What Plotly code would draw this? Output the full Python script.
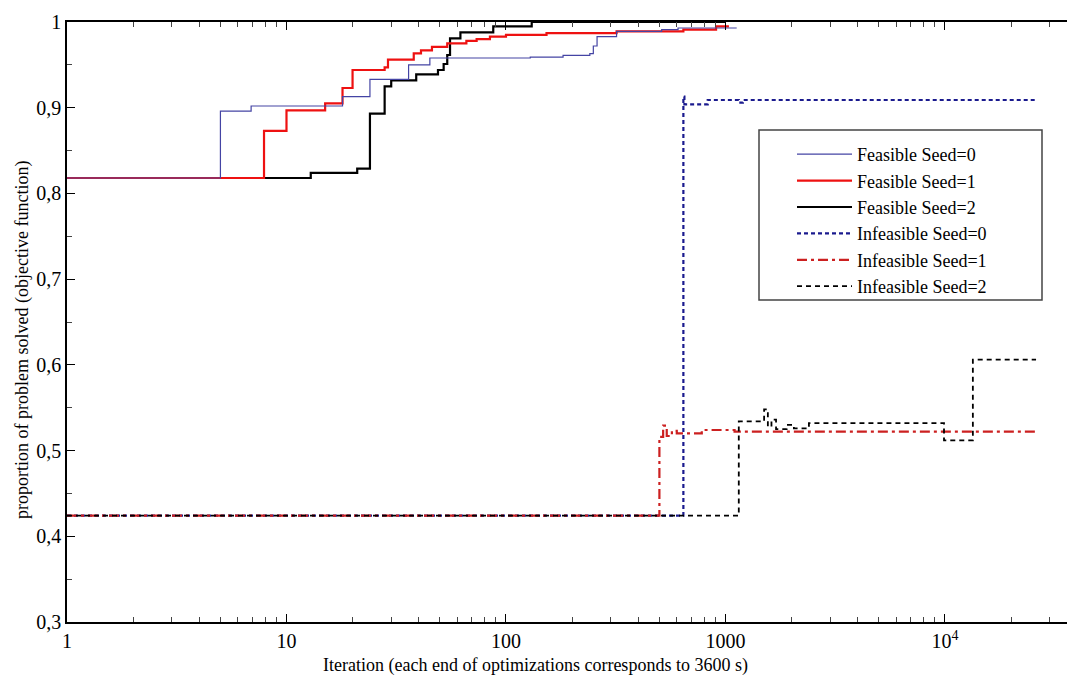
import plotly.graph_objects as go

# ---- data ----
feas0_x = [1, 5.0, 6.9, 18, 24, 36, 45, 129, 182, 241, 250, 260, 319, 512, 608, 1125]
feas0_y = [0.818, 0.896, 0.902, 0.913, 0.933, 0.950, 0.958, 0.959, 0.961, 0.963, 0.972, 0.983, 0.989, 0.991, 0.993, 0.993]

feas1_x = [1, 7.9, 10, 15, 18, 20, 28, 29, 38, 41, 46, 54, 66, 73.5, 84.5, 100, 153, 319, 643, 906, 1037]
feas1_y = [0.818, 0.873, 0.897, 0.905, 0.923, 0.944, 0.947, 0.956, 0.9635, 0.967, 0.971, 0.975, 0.978, 0.980, 0.983, 0.985, 0.987, 0.989, 0.991, 0.995, 0.995]

feas2_x = [1, 12.9, 21, 24, 28, 30, 39, 49, 52, 54, 55.6, 62, 87.5, 131, 1000]
feas2_y = [0.818, 0.824, 0.829, 0.893, 0.925, 0.932, 0.939, 0.944, 0.951, 0.9615, 0.981, 0.988, 0.995, 1.0, 1.0]

infeas0_x = [1, 643, 650, 830, 1150, 1200, 26000]
infeas0_y = [0.424, 0.913, 0.904, 0.909, 0.906, 0.909, 0.909]

infeas1_x = [1, 500, 520, 540, 570, 600, 780, 1100, 26000]
infeas1_y = [0.424, 0.516, 0.529, 0.517, 0.523, 0.520, 0.524, 0.522, 0.522]

infeas2_x = [1, 1150, 1500, 1560, 1620, 1700, 1900, 2050, 2400, 9900, 13400, 26000]
infeas2_y = [0.424, 0.534, 0.548, 0.528, 0.536, 0.525, 0.530, 0.526, 0.532, 0.512, 0.606, 0.606]

series_names = ["Feasible Seed=0", "Feasible Seed=1", "Feasible Seed=2",
                "Infeasible Seed=0", "Infeasible Seed=1", "Infeasible Seed=2"]

x_tickvals = [1, 10, 100, 1000, 10000]
x_ticktext = ["1", "10", "100", "1000", "10<sup>4</sup>"]
y_tickvals = [0.3, 0.4, 0.5, 0.6, 0.7, 0.8, 0.9, 1.0]
y_ticktext = ["0,3", "0,4", "0,5", "0,6", "0,7", "0,8", "0,9", "1"]

FONT = "Liberation Serif, Times New Roman, Times, serif"

traces = [
    (feas2_x, feas2_y, series_names[2], "#000000", 2.2, "solid", 3),
    (feas1_x, feas1_y, series_names[1], "#ee1111", 2.2, "solid", 2),
    (feas0_x, feas0_y, series_names[0], "#4444a4", 1.2, "solid", 1),
    (infeas0_x, infeas0_y, series_names[3], "#1a1a8e", 2.2, "4px,3px", 4),
    (infeas1_x, infeas1_y, series_names[4], "#cc2020", 2.2, "10px,4px,3px,4px", 5),
    (infeas2_x, infeas2_y, series_names[5], "#000000", 1.8, "5px,4px", 6),
]

fig = go.Figure()
for xs, ys, name, col, w, dash, rank in traces:
    fig.add_trace(go.Scatter(x=xs, y=ys, name=name, mode="lines",
                             line=dict(color=col, width=w, dash=dash, shape="hv"),
                             legendrank=rank))

minor_x = [m * 10 ** k for k in range(5) for m in range(2, 10) if m * 10 ** k < 36000]

fig.update_layout(
    width=1067, height=679,
    margin=dict(l=67, r=0, t=22, b=57, autoexpand=False),
    paper_bgcolor="white", plot_bgcolor="white",
    font=dict(family=FONT, size=18, color="black"),
    showlegend=True,
    legend=dict(x=0.725, y=0.81, xanchor="left", yanchor="top",
                bgcolor="rgba(0,0,0,0)", borderwidth=0,
                font=dict(family=FONT, size=18, color="black"),
                itemwidth=55, tracegroupgap=0),
    xaxis=dict(type="log", range=[0, 4.556], automargin=False,
               tickvals=x_tickvals, ticktext=x_ticktext,
               ticks="inside", ticklen=8, tickwidth=1, tickcolor="black",
               showline=True, linecolor="black", linewidth=2, mirror="ticks",
               showgrid=False, zeroline=False,
               tickfont=dict(family=FONT, size=20),
               minor=dict(tickvals=minor_x, ticks="inside", ticklen=5, tickcolor="#444", showgrid=False)),
    yaxis=dict(range=[0.3, 1.0], automargin=False,
               tickvals=y_tickvals, ticktext=y_ticktext,
               ticks="inside", ticklen=8, tickwidth=1, tickcolor="black",
               showline=True, linecolor="black", linewidth=1.5, mirror=False,
               showgrid=False, zeroline=False,
               tickfont=dict(family=FONT, size=20),
               minor=dict(dtick=0.05, tick0=0.3, ticks="inside", ticklen=5, tickcolor="#444", showgrid=False)),
    annotations=[
        dict(text="Iteration (each end of optimizations corresponds to 3600 s)",
             xref="paper", yref="paper", x=(535 - 67) / 1000, y=(622 - 665) / 600,
             xanchor="center", yanchor="middle", showarrow=False,
             font=dict(family=FONT, size=18)),
        dict(text="proportion of problem solved (objective function)",
             xref="paper", yref="paper", x=(22 - 67) / 1000, y=(622 - 340) / 600,
             xanchor="center", yanchor="middle", showarrow=False, textangle=-90,
             font=dict(family=FONT, size=18)),
    ],
    shapes=[dict(type="rect", xref="paper", yref="paper",
                 x0=0.692, x1=0.975, y0=(622 - 300) / 600, y1=(622 - 130) / 600,
                 line=dict(color="#444", width=1.5), fillcolor="rgba(0,0,0,0)", layer="above")],
)

fig.write_html("out.html", config={"displayModeBar": False},
               post_script="document.body.style.margin='0';document.body.style.overflow='hidden';")
